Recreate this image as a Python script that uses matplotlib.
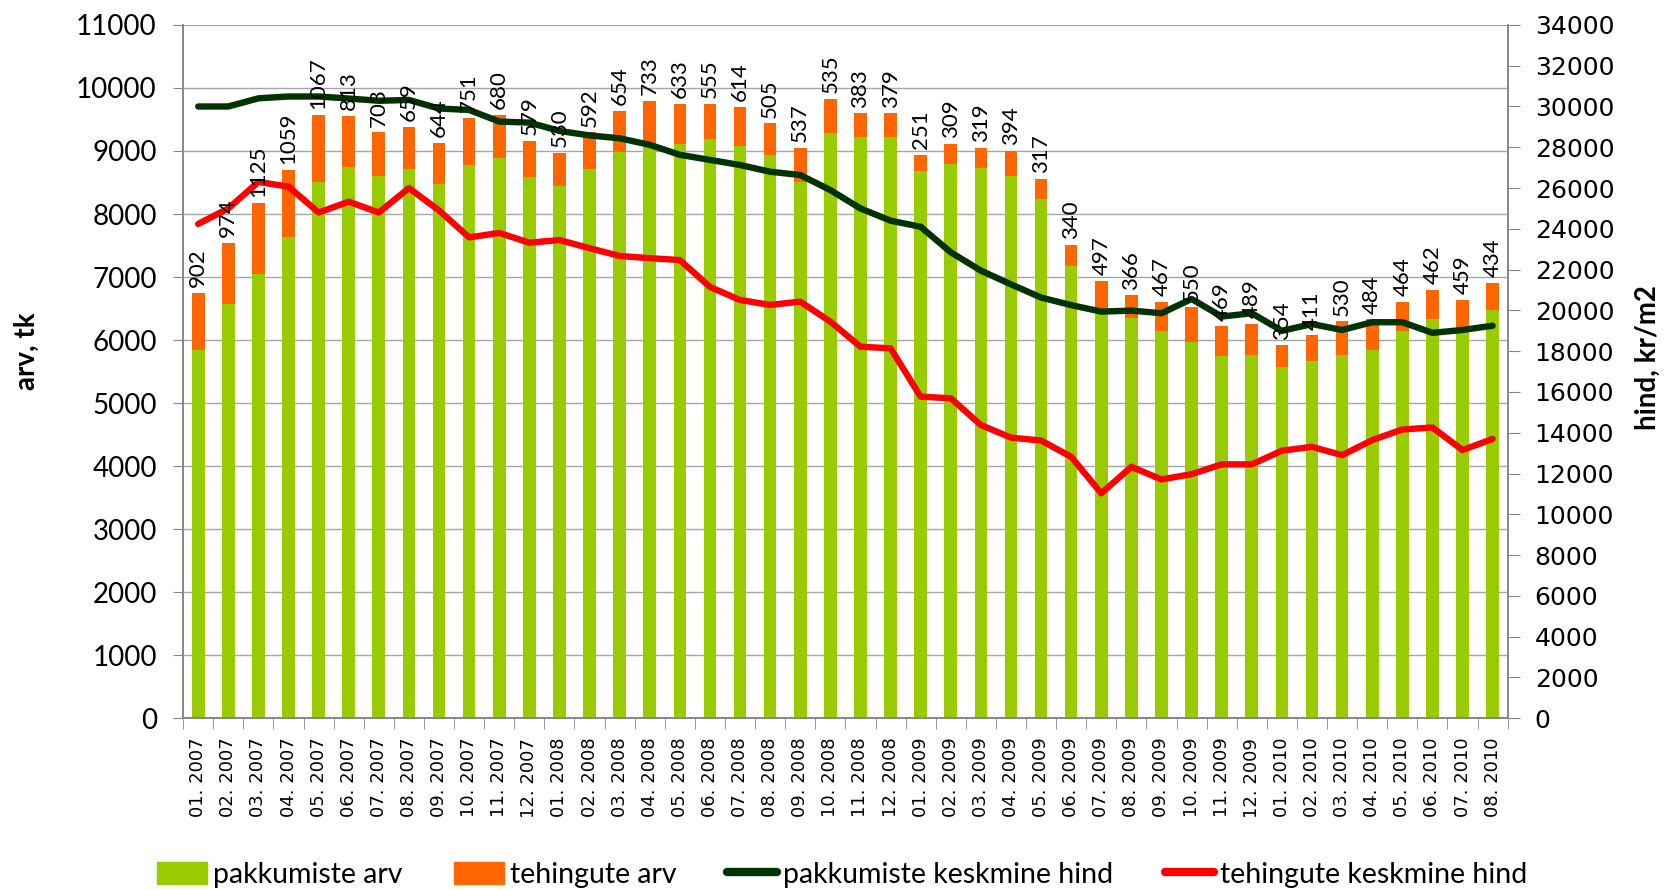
import numpy as np
import matplotlib.pyplot as plt
from matplotlib.patches import Patch
from matplotlib.lines import Line2D

months = ["01. 2007", "02. 2007", "03. 2007", "04. 2007", "05. 2007", "06. 2007",
          "07. 2007", "08. 2007", "09. 2007", "10. 2007", "11. 2007", "12. 2007",
          "01. 2008", "02. 2008", "03. 2008", "04. 2008", "05. 2008", "06. 2008",
          "07. 2008", "08. 2008", "09. 2008", "10. 2008", "11. 2008", "12. 2008",
          "01. 2009", "02. 2009", "03. 2009", "04. 2009", "05. 2009", "06. 2009",
          "07. 2009", "08. 2009", "09. 2009", "10. 2009", "11. 2009", "12. 2009",
          "01. 2010", "02. 2010", "03. 2010", "04. 2010", "05. 2010", "06. 2010",
          "07. 2010", "08. 2010"]

# pakkumiste arv (roheline osa)
pakkumiste_arv = [5850, 6570, 7055, 7641, 8503, 8742, 8597, 8721, 8483, 8779,
                  8890, 8581, 8438, 8708, 8981, 9061, 9113, 9191, 9086, 8935,
                  8513, 9290, 9217, 9221, 8686, 8801, 8731, 8606, 8239, 7168,
                  6440, 6348, 6136, 5974, 5753, 5765, 5566, 5668, 5770, 5849,
                  6139, 6332, 6176, 6471]

# tehingute arv (oranz osa, need numbrid on ka siltidena)
tehingute_arv = [902, 974, 1125, 1059, 1067, 813, 703, 659, 644, 751,
                 680, 579, 530, 592, 654, 733, 633, 555, 614, 505,
                 537, 535, 383, 379, 251, 309, 319, 394, 317, 340,
                 497, 366, 467, 550, 469, 489, 354, 411, 530, 484,
                 464, 462, 459, 434]

pakkumiste_hind = [30000, 30000, 30400, 30490, 30490, 30390, 30280, 30320, 29900, 29830,
                   29260, 29210, 28800, 28580, 28440, 28120, 27630, 27380, 27130, 26800,
                   26640, 25900, 25000, 24400, 24100, 22850, 21950, 21280, 20630, 20260,
                   19940, 19990, 19860, 20560, 19700, 19860, 19000, 19330, 19040, 19420,
                   19420, 18900, 19040, 19250]

tehingute_hind = [24240, 25000, 26300, 26070, 24800, 25330, 24800, 26000, 24900, 23580,
                  23800, 23320, 23450, 23050, 22670, 22560, 22470, 21150, 20510, 20270,
                  20430, 19450, 18220, 18140, 15770, 15690, 14380, 13760, 13620, 12820,
                  11030, 12330, 11710, 11970, 12450, 12450, 13120, 13310, 12900, 13640,
                  14160, 14260, 13150, 13700]

GREEN = "#99CC00"
ORANGE = "#FF6600"
DARK = "#003300"
RED = "#FF0000"
AXIS = "#868686"

x = np.arange(len(months))
total = np.array(pakkumiste_arv) + np.array(tehingute_arv)

fig = plt.figure(figsize=(16.65, 8.9), dpi=100)
ax = fig.add_axes([0.110, 0.193, 0.7955, 0.779])
ax2 = ax.twinx()

ax.bar(x, pakkumiste_arv, width=0.42, color=GREEN, zorder=2)
ax.bar(x, tehingute_arv, width=0.42, bottom=pakkumiste_arv, color=ORANGE, zorder=2)

ax2.plot(x, pakkumiste_hind, color=DARK, linewidth=4.6, solid_capstyle="round",
         solid_joinstyle="round", zorder=3)
ax2.plot(x, tehingute_hind, color=RED, linewidth=4.6, solid_capstyle="round",
         solid_joinstyle="round", zorder=3)

# sildid tulpade kohal (ax2 peal, et jooned jääks alla)
for xi, t, lab in zip(x, total, tehingute_arv):
    ax2.annotate(str(lab), xy=(xi, t), xycoords=ax.transData,
                 xytext=(0, 4), textcoords="offset points",
                 rotation=90, ha="center", va="bottom",
                 fontsize=16, family="Lato", zorder=5)

ax.set_xlim(-0.5, len(months) - 0.5)
ax.set_ylim(0, 11000)
ax2.set_ylim(0, 34000)
ax.set_yticks(np.arange(0, 11001, 1000))
ax2.set_yticks(np.arange(0, 34001, 2000))

ax.set_xticks(x)
ax.set_xticklabels(months, rotation=90, fontsize=13, family="DejaVu Sans")
ax.tick_params(axis="x", length=0, pad=14)
ax.set_xticks(np.arange(-0.5, len(months), 1), minor=True)
ax.tick_params(axis="x", which="minor", length=8, color=AXIS, direction="out")

ax.tick_params(axis="y", length=7, color=AXIS, labelsize=20, pad=12)
for t in ax.get_yticklabels():
    t.set_family("Lato")
ax2.tick_params(axis="y", length=8.5, color=AXIS, labelsize=18, pad=11)

ax.grid(True, axis="y", color="#A6A6A6", linewidth=1)
ax.set_axisbelow(True)

for a in (ax, ax2):
    a.spines["top"].set_visible(False)
    for s in ("left", "right", "bottom"):
        a.spines[s].set_color(AXIS)
        a.spines[s].set_linewidth(1.2)

fig.text(0.016, 0.605, "arv, tk", rotation=90, ha="center", va="center",
         fontsize=20, fontweight="bold", family="Lato")
fig.text(0.990, 0.598, "hind, kr/m2", rotation=90, ha="center", va="center",
         fontsize=20, fontweight="bold", family="Lato")

handles = [Patch(color=GREEN), Patch(color=ORANGE),
           Line2D([], [], color=DARK, linewidth=6, solid_capstyle="round"),
           Line2D([], [], color=RED, linewidth=6, solid_capstyle="round")]
labels = ["pakkumiste arv", "tehingute arv", "pakkumiste keskmine hind", "tehingute keskmine hind"]
fig.legend(handles, labels, loc="center", bbox_to_anchor=(0.506, 0.017), ncol=4,
           frameon=False, prop={"family": "Lato", "size": 20.5},
           handlelength=1.75, handleheight=0.85, handletextpad=0.21, columnspacing=1.8,
           borderpad=0.1)

fig.savefig("out.png", dpi=100)
